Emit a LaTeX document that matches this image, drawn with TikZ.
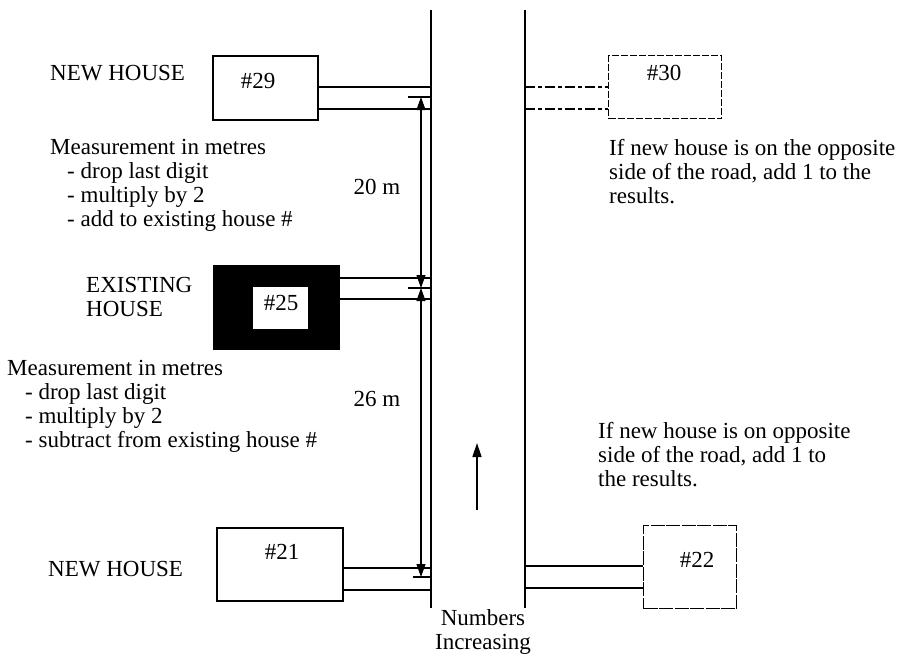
\documentclass[tikz,border=0pt]{standalone}
\usepackage{fontspec}
\setmainfont{Liberation Serif}
\usetikzlibrary{arrows.meta}
\begin{document}
\begin{tikzpicture}[x=1pt,y=-1pt,
  txtfont/.style={font=\fontsize{23}{24}\selectfont},
  lbl/.style={txtfont, inner sep=0pt, align=left, anchor=base west},
  num/.style={txtfont, inner sep=0pt},
  housebox/.style={draw, line width=2.4pt, inner sep=0pt},
  road/.style={line width=1.9pt},
  drive/.style={line width=1.6pt},
  dashdrive/.style={line width=1.1pt, dash pattern=on 10pt off 3pt on 4pt off 3pt},
  tick/.style={line width=1.6pt},
  tip/.style={Triangle[length=13pt,width=9pt]},
  dim/.style={line width=1.1pt, {Triangle[length=13pt,width=9pt]}-{Triangle[length=13pt,width=9pt]}}]
\useasboundingbox (0,0) rectangle (903,665);

% roads
\coordinate (rl1) at (431,10); \coordinate (rl2) at (431,608);
\coordinate (rr1) at (525,10); \coordinate (rr2) at (525,608);
\draw[road] (rl1) -- (rl2);
\draw[road] (rr1) -- (rr2);

% house 29
\node[housebox, minimum width=105pt, minimum height=64pt, anchor=north west] (h29) at (212,55) {};
\node[num] (t29) at (258,81) {\#29};
\draw[drive] (h29.east |- 0,87) -- (431,87);
\draw[drive] (h29.east |- 0,109) -- (431,109);
\coordinate (k29a) at (408,97); \coordinate (k29b) at (431,97);
\draw[tick] (k29a) -- (k29b);

% house 25
\node[fill=black, minimum width=127pt, minimum height=85pt, anchor=north west, inner sep=0pt] (h25) at (213,265) {};
\node[fill=white, minimum width=55pt, minimum height=42pt, anchor=north west, inner sep=0pt] (h25i) at (253,287) {};
\node[num] (t25) at (281,303) {\#25};
\draw[drive] (h25.east |- 0,278) -- (431,278);
\draw[drive] (h25.east |- 0,299) -- (431,299);
\coordinate (k25a) at (408,288); \coordinate (k25b) at (431,288);
\draw[tick] (k25a) -- (k25b);

% house 21
\node[housebox, minimum width=126pt, minimum height=73pt, anchor=north west] (h21) at (216,527) {};
\node[num] (t21) at (282,552) {\#21};
\draw[drive] (h21.east |- 0,568) -- (431,568);
\draw[drive] (h21.east |- 0,590) -- (431,590);
\coordinate (k21a) at (413,577); \coordinate (k21b) at (431,577);
\draw[tick] (k21a) -- (k21b);

% dimension arrows
\coordinate (d1) at (421,97); \coordinate (d2) at (421,288); \coordinate (d3) at (421,577);
\draw[dim] (d1) -- (d2);
\draw[dim] (d2) -- (d3);
\node[num] (m20) at (377,187) {20 m};
\node[num] (m26) at (377,399) {26 m};

% house 30 (dashed, opposite side)
\node[draw, line width=1.1pt, dash pattern=on 7pt off 2pt, minimum width=113pt, minimum height=63pt, anchor=north west, inner sep=0pt] (h30) at (608,55) {};
\node[num] (t30) at (664,73) {\#30};
\draw[dashdrive] (525,87) -- (h30.west |- 0,87);
\draw[dashdrive] (525,109) -- (h30.west |- 0,109);

% house 22
\node[draw, line width=1.2pt, dash pattern=on 14pt off 1.5pt, minimum width=93pt, minimum height=83pt, anchor=north west, inner sep=0pt] (h22) at (643,525) {};
\node[num] (t22) at (697,560) {\#22};
\draw[line width=1.3pt] (525,566) -- (h22.west |- 0,566);
\draw[line width=1.3pt] (525,588) -- (h22.west |- 0,588);

% numbers increasing arrow
\coordinate (na1) at (477,510); \coordinate (na2) at (477,443);
\draw[line width=1.6pt, -{Triangle[length=14pt,width=9pt]}] (na1) -- (na2);
\node[txtfont, inner sep=0pt, align=center, anchor=base] (ni) at (483,649) {Numbers\\Increasing};

% texts
\node[lbl] (nh1) at (50,80) {NEW HOUSE};
\node[lbl] (ms1) at (50,226) {Measurement in metres\\
\hspace*{17pt}- drop last digit\\
\hspace*{17pt}- multiply by 2\\
\hspace*{17pt}- add to existing house \#};
\node[lbl] (ex) at (86,316) {EXISTING\\HOUSE};
\node[lbl] (ms2) at (7,447) {Measurement in metres\\
\hspace*{18pt}- drop last digit\\
\hspace*{18pt}- multiply by 2\\
\hspace*{18pt}- subtract from existing house \#};
\node[lbl] (nh2) at (48,576) {NEW HOUSE};
\node[lbl] (op1) at (609,203) {If new house is on the opposite\\side of the road, add 1 to the\\results.};
\node[lbl] (op2) at (598,486) {If new house is on opposite\\side of the road, add 1 to\\the results.};
\end{tikzpicture}
\end{document}
